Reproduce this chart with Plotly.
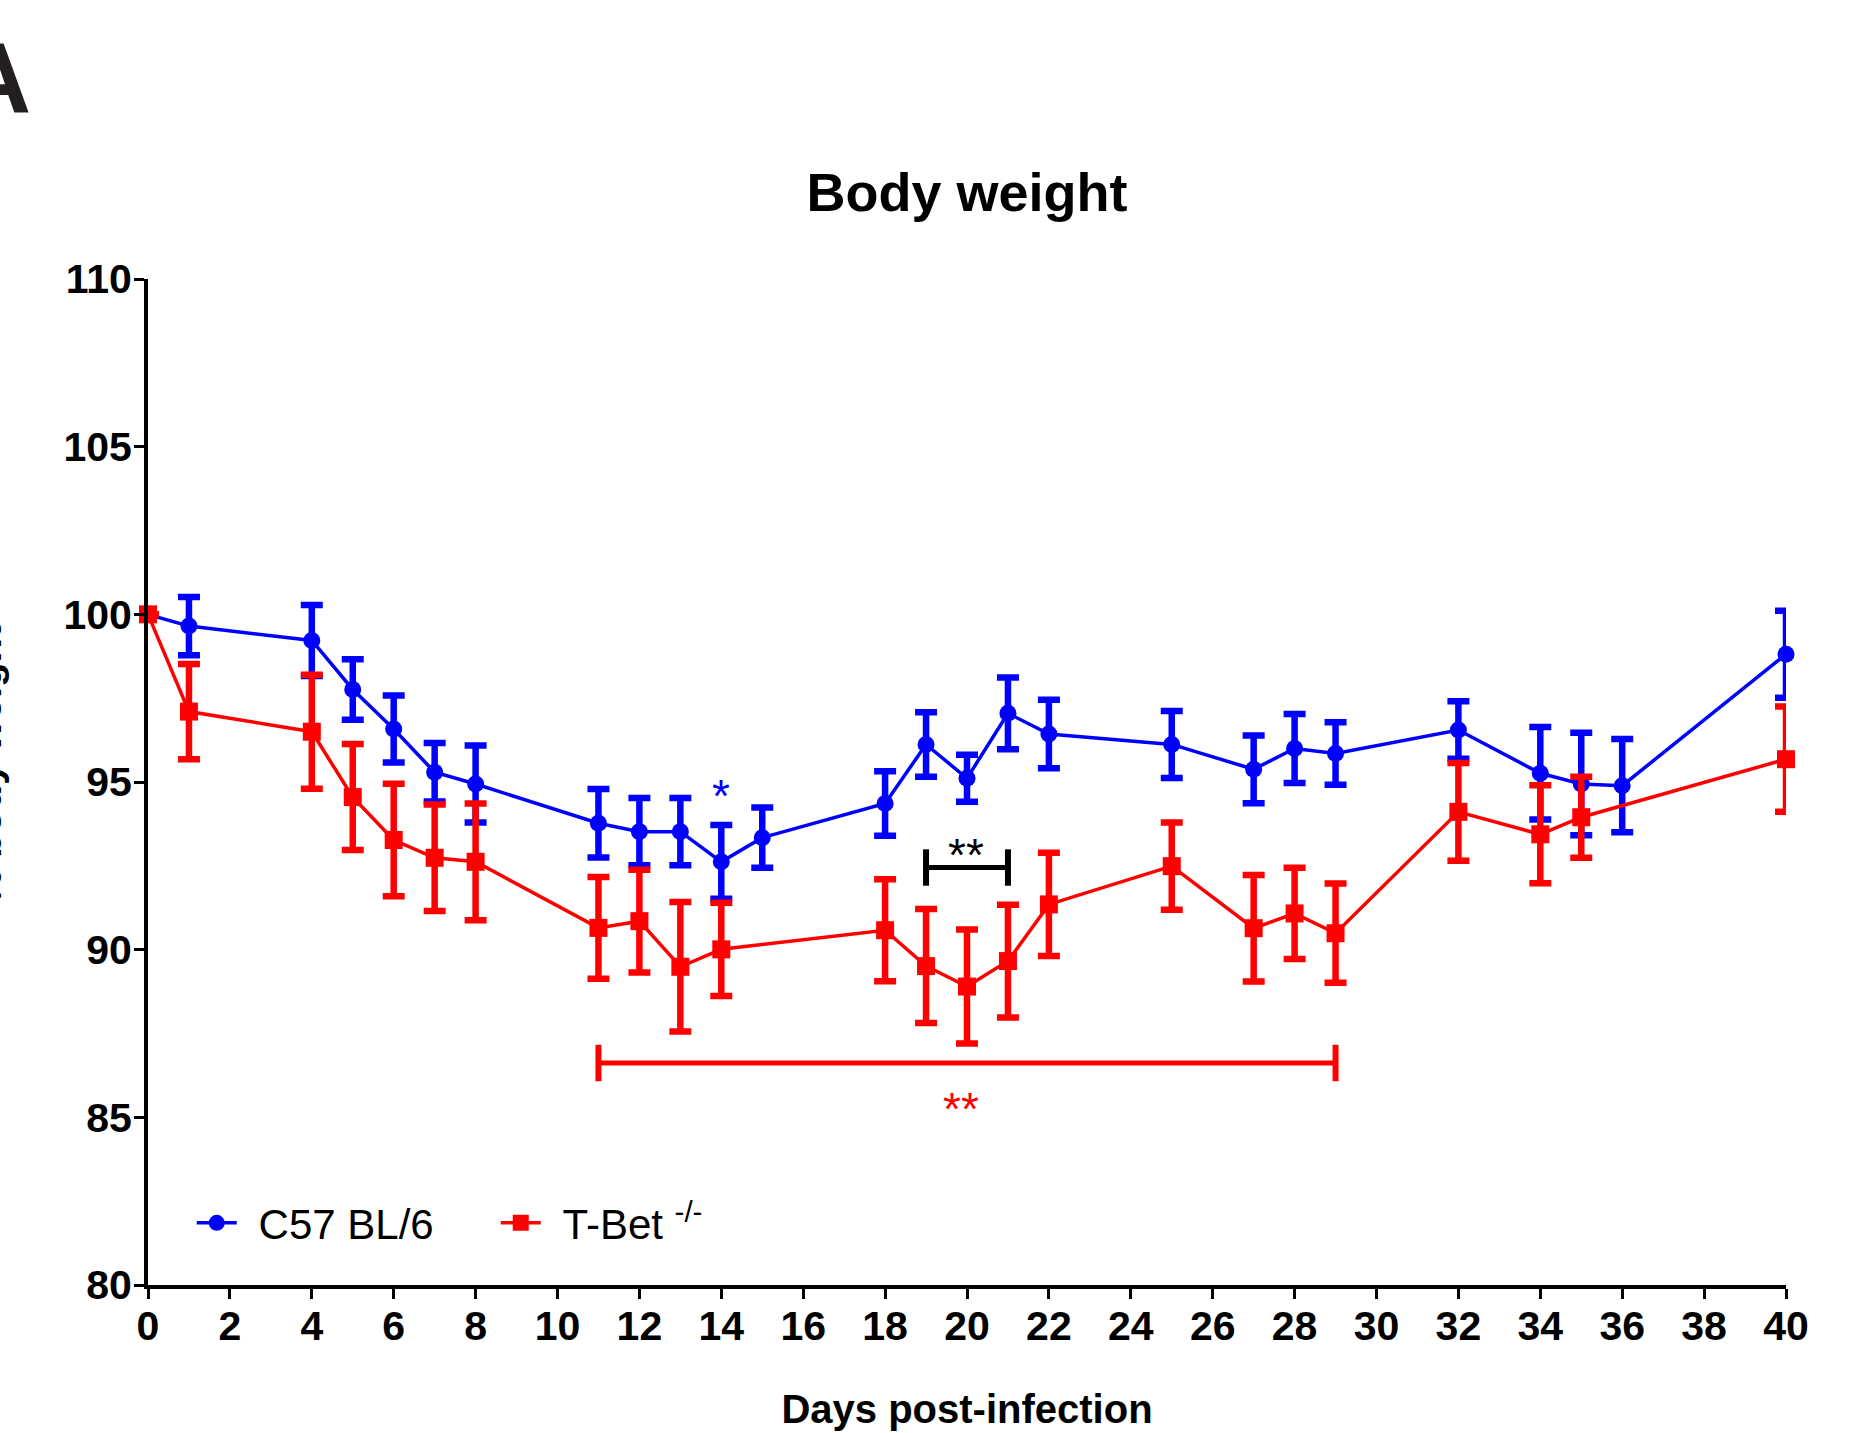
import plotly.graph_objects as go

# ---- data ----
days_c57 = [0, 1, 4, 5, 6, 7, 8, 11, 12, 13, 14, 15, 18, 19, 20, 21, 22, 25, 27, 28, 29, 32, 34, 35, 36, 40]
weight_c57 = [100, 99.65, 99.22, 97.76, 96.58, 95.29, 94.94, 93.77, 93.52, 93.52, 92.62, 93.34, 94.36, 96.12,
              95.11, 97.05, 96.43, 96.12, 95.38, 96.0, 95.85, 96.55, 95.26, 94.94, 94.89, 98.81]
sem_c57 = [None, 0.87, 1.06, 0.9, 1.0, 0.87, 1.15, 1.02, 1.0, 1.0, 1.1, 0.9, 0.96, 0.96,
           0.7, 1.07, 1.02, 1.0, 1.01, 1.03, 0.93, 0.86, 1.38, 1.53, 1.39, 1.3]

days_tbet = [0, 1, 4, 5, 6, 7, 8, 11, 12, 13, 14, 18, 19, 20, 21, 22, 25, 27, 28, 29, 32, 34, 35, 40]
weight_tbet = [100, 97.1, 96.5, 94.55, 93.27, 92.74, 92.62, 90.65, 90.85, 89.49, 90.01, 90.58, 89.51, 88.9,
               89.66, 91.35, 92.49, 90.64, 91.08, 90.49, 94.11, 93.44, 93.95, 95.68]
sem_tbet = [None, 1.42, 1.7, 1.58, 1.68, 1.59, 1.74, 1.52, 1.53, 1.93, 1.39, 1.52, 1.7, 1.7,
            1.68, 1.54, 1.3, 1.59, 1.36, 1.48, 1.46, 1.46, 1.21, 1.57]

series_names = ["\u2009\u2009C57 BL/6", "\u2009\u2009T-Bet <sup>-/-</sup>"]
series_colors = ["#0000FF", "#FF0000"]

# significance brackets
bracket_start = [19, 11]
bracket_end = [21, 29]
bracket_level = [92.45, 86.62]
bracket_colors = ["#000000", "#FF0000"]

# significance labels
sig_x = [14, 19.97, 19.85]
sig_y = [94.86, 93.09, 85.53]
sig_text = ["*", "**", "**"]
sig_colors = ["#0000FF", "#000000", "#FF0000"]

x_ticks = list(range(0, 41, 2))
y_ticks = [80, 85, 90, 95, 100, 105, 110]

FONT = "Arial, 'Liberation Sans', Helvetica, sans-serif"

fig = go.Figure()

for xs, ys, es, name, col, sym, size in [
    (days_c57, weight_c57, sem_c57, series_names[0], series_colors[0], "circle", 17),
    (days_tbet, weight_tbet, sem_tbet, series_names[1], series_colors[1], "square", 18),
]:
    fig.add_trace(go.Scatter(
        x=xs, y=ys, name=name, mode="lines+markers",
        line=dict(color=col, width=3.5),
        marker=dict(symbol=sym, size=size, color=col),
        error_y=dict(type="data", array=es, visible=True, color=col, thickness=6.5, width=11),
        cliponaxis=False,
    ))

for x0, x1, lv, col in zip(bracket_start, bracket_end, bracket_level, bracket_colors):
    fig.add_trace(go.Scatter(
        x=[x0, x1], y=[lv, lv], mode="lines+markers", showlegend=False, hoverinfo="skip",
        line=dict(color=col, width=5),
        marker=dict(symbol="line-ns", size=26, line=dict(color=col, width=6)),
        cliponaxis=False,
    ))

for sx, sy, st, sc in zip(sig_x, sig_y, sig_text, sig_colors):
    fig.add_annotation(x=sx, y=sy, xref="x", yref="y", text=st, showarrow=False,
                       font=dict(family=FONT, size=46, color=sc), yanchor="middle", yshift=-9)

# panel letter
fig.add_annotation(text="<b>A</b>", xref="paper", yref="paper", x=-0.0700, y=1.1995,
                   xanchor="right", yanchor="middle", showarrow=False,
                   font=dict(family=FONT, size=100, color="#231f20"))

# y-axis title (cut off at the page edge)
fig.add_annotation(text="<b>% body weight</b>", xref="paper", yref="paper", x=-0.0837, y=0.517,
                   xanchor="right", yanchor="middle", textangle=-90, showarrow=False,
                   font=dict(family=FONT, size=40, color="black"))

fig.update_layout(
    width=1867, height=1433,
    margin=dict(l=148, r=81, t=279, b=148),
    paper_bgcolor="white", plot_bgcolor="white",
    font=dict(family=FONT, color="black"),
    title=dict(text="<b>Body weight</b>", x=0.5, xref="paper", y=1 - 192 / 1433, yref="container",
               xanchor="center", yanchor="middle", font=dict(family=FONT, size=54, color="black")),
    legend=dict(orientation="h", x=0.0267, y=0.0616, xanchor="left", yanchor="middle",
                font=dict(family=FONT, size=42, color="black"), bgcolor="rgba(0,0,0,0)",
                entrywidth=249, entrywidthmode="pixels", itemwidth=40),
    showlegend=True,
)

fig.update_xaxes(
    range=[0, 40], tickvals=x_ticks, ticktext=[f"<b>{t}</b>" for t in x_ticks],
    showline=True, linecolor="black", linewidth=4, ticks="outside", ticklen=10, tickwidth=3,
    tickcolor="black", showgrid=False, zeroline=False, automargin=False,
    tickfont=dict(family=FONT, size=41, color="black"), ticklabelstandoff=-8,
    title=dict(text="<b>Days post-infection</b>", standoff=48, font=dict(family=FONT, size=40, color="black")),
)
fig.update_yaxes(
    range=[80, 110], tickvals=y_ticks, ticktext=[f"<b>{t}</b>" for t in y_ticks],
    showline=True, linecolor="black", linewidth=4, ticks="outside", ticklen=10, tickwidth=3,
    tickcolor="black", showgrid=False, zeroline=False, automargin=False,
    tickfont=dict(family=FONT, size=41, color="black"), ticklabelstandoff=-6,
)

fig.write_html("out.html", config={"displayModeBar": False},
               post_script="document.body.style.margin='0';")
